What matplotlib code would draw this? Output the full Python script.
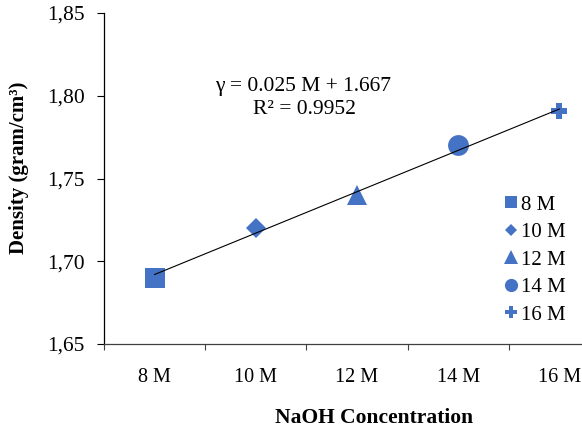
import matplotlib
matplotlib.use("Agg")
import matplotlib.pyplot as plt
import numpy as np

# Data
categories = ["8 M", "10 M", "12 M", "14 M", "16 M"]
density = [1.69, 1.72, 1.74, 1.77, 1.791]
markers = ["s", "D", "^", "o", "P"]
marker_sizes = [14.5, 10.0, 15.0, 15.0, 11.5]
legend_marker_sizes = [9.0, 6.5, 9.5, 9.5, 8.0]
slope = 0.025
intercept = 1.667
r_squared = 0.9952
y_ticks = [1.65, 1.70, 1.75, 1.80, 1.85]

plt.rcParams["font.family"] = ["Liberation Serif", "DejaVu Serif"]
color = "#4472C4"

W, H = 582, 428
fig = plt.figure(figsize=(W / 100, H / 100), dpi=100)
left, right, top, bottom = 104, 610, 13, 344
ax = fig.add_axes([left / W, 1 - bottom / H, (right - left) / W, (bottom - top) / H])

x = np.arange(len(categories))
for i, (cat, val, m, ms) in enumerate(zip(categories, density, markers, marker_sizes)):
    ax.plot([x[i]], [val], linestyle="none", marker=m, markersize=ms,
            color=color, markeredgewidth=0, label=cat, zorder=3, clip_on=False)

# linear trend line
fit_y = slope * (x + 1) + intercept
ax.plot(x, fit_y, color="black", linewidth=0.8, zorder=4)

ax.set_xlim(-0.5, len(categories) - 0.5)
ax.set_ylim(1.65, 1.85)
ax.set_yticks(y_ticks)
ax.set_yticklabels([f"{v:.2f}".replace(".", ",") for v in y_ticks], fontsize=15.5)

# category labels centered, tick marks between categories
ax.set_xticks(x)
ax.set_xticklabels(categories, fontsize=14.5)
ax.set_xticks(np.arange(-0.5, len(categories), 1.0), minor=True)
ax.tick_params(axis="x", which="major", length=0, pad=17)
ax.tick_params(axis="x", which="minor", length=4, width=0.8, direction="out", color="#404040")
ax.tick_params(axis="y", length=5, width=0.8, direction="out", pad=9)

for s in ("top", "right"):
    ax.spines[s].set_visible(False)
ax.spines["left"].set_color("black")
ax.spines["bottom"].set_color("#404040")
ax.spines["left"].set_linewidth(0.9)
ax.spines["bottom"].set_linewidth(0.9)

ax.set_ylabel("Density (gram/cm\u00b3)", fontsize=15, fontweight="bold")
ax.yaxis.set_label_coords((29 - left) / (right - left), 0.532)
fig.text(374 / W, 1 - 408 / H, "NaOH Concentration", fontsize=15.5,
         fontweight="bold", ha="center", va="top")

fig.text(303 / W, 1 - 86 / H, f"\u03b3 = {slope} M + {intercept}", fontsize=15.5,
         ha="center", va="center")
fig.text(304 / W, 1 - 109 / H, f"R\u00b2 = {r_squared}", fontsize=15.5,
         ha="center", va="center")

leg = ax.legend(loc="upper left", bbox_to_anchor=(505 / W, 1 - 195 / H),
                bbox_transform=fig.transFigure, frameon=False, fontsize=15,
                handlelength=0.55, handletextpad=0.2, labelspacing=0.38,
                borderpad=0, borderaxespad=0)
for h, ms in zip(leg.legend_handles, legend_marker_sizes):
    h.set_markersize(ms)

fig.savefig("out.png", dpi=100)
